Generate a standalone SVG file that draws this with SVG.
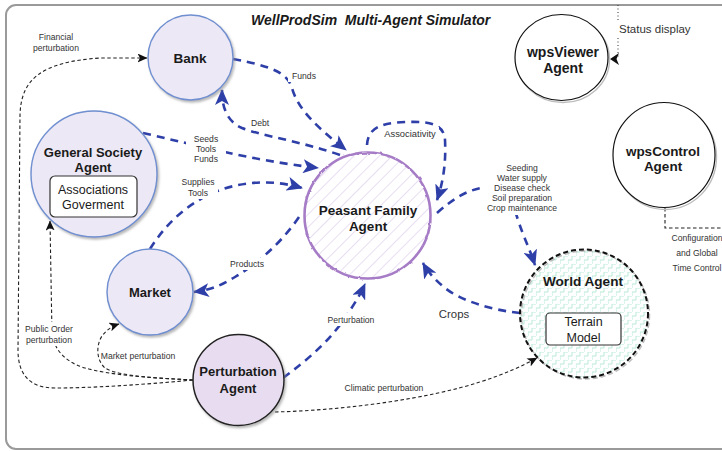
<svg xmlns="http://www.w3.org/2000/svg" width="722" height="451" viewBox="0 0 722 451">
  <defs>
    <style>
      .frame { fill: #ffffff; stroke: #9a9a9a; stroke-width: 2; }
      .title { font-family: "Liberation Sans", Arial, sans-serif; font-size: 14px; font-weight: bold; font-style: italic; fill: #1a1a1a; white-space: pre; }
      .name { font-family: "Liberation Sans", Arial, sans-serif; font-size: 13px; font-weight: bold; fill: #1a1a1a; text-anchor: middle; }
      .sub { font-family: "Liberation Sans", Arial, sans-serif; font-size: 12.5px; fill: #1a1a1a; text-anchor: middle; }
      .lbl { font-family: "Liberation Sans", Arial, sans-serif; font-size: 8.6px; fill: #333333; text-anchor: middle; }
      .lbl-l { font-family: "Liberation Sans", Arial, sans-serif; font-size: 11.5px; fill: #333333; }
      .agent { fill: #ede8f5; stroke: #6f8fd0; stroke-width: 1.4; }
      .pert { fill: #e8ddf0; stroke: #222222; stroke-width: 1.5; }
      .plain { fill: #ffffff; stroke: #111111; stroke-width: 1.2; }
      .plain-sh { fill: none; stroke: #bdbdbd; stroke-width: 1.4; }
      .box { fill: #ffffff; stroke: #333333; stroke-width: 1.2; }
      .flow { fill: none; stroke: #2e3fa8; stroke-width: 2.6; stroke-dasharray: 8 6; marker-end: url(#blueArrow); }
      .pflow { fill: none; stroke: #222222; stroke-width: 1.1; stroke-dasharray: 3.5 2.5; marker-end: url(#blackArrow); }
      .ctrl { fill: none; stroke: #222222; stroke-width: 1.1; stroke-dasharray: 3.5 2.5; }
      .dots { fill: none; stroke: #333333; stroke-width: 1; stroke-dasharray: 1 2.5; }
      .bg { fill: #ffffff; }
    </style>
    <marker id="blueArrow" markerUnits="userSpaceOnUse" markerWidth="16" markerHeight="14" viewBox="0 0 16 14" refX="15" refY="7" orient="auto">
      <path d="M0,0 L16,7 L0,14 L4,7 z" fill="#2e3fa8"/>
    </marker>
    <marker id="blackArrow" markerUnits="userSpaceOnUse" markerWidth="10" markerHeight="9" viewBox="0 0 10 9" refX="9.5" refY="4.5" orient="auto">
      <path d="M0,0 L10,4.5 L0,9 L2.5,4.5 z" fill="#111111"/>
    </marker>
    <filter id="shadow" x="-20%" y="-20%" width="140%" height="140%">
      <feDropShadow dx="1.5" dy="2" stdDeviation="1.2" flood-color="#8a8a8a" flood-opacity="0.6"/>
    </filter>
    <filter id="rough" x="-10%" y="-10%" width="120%" height="120%">
      <feTurbulence type="fractalNoise" baseFrequency="0.12" numOctaves="2" seed="3" result="n"/>
      <feDisplacementMap in="SourceGraphic" in2="n" scale="2.5" xChannelSelector="R" yChannelSelector="G"/>
    </filter>
    <pattern id="hatch" patternUnits="userSpaceOnUse" width="9" height="9" patternTransform="rotate(45)">
      <line x1="0" y1="0" x2="0" y2="9" stroke="#d9c8ea" stroke-width="1.2"/>
    </pattern>
    <pattern id="zigzag" patternUnits="userSpaceOnUse" width="8" height="8">
      <path d="M0,8 V4 H4 V0 H8" fill="none" stroke="#b9ead7" stroke-width="1"/>
    </pattern>
  </defs>

  <!-- outer frame -->
  <rect class="frame" x="6" y="5" width="740" height="444" rx="10"/>
  <text class="title" x="251" y="25" xml:space="preserve">WellProdSim  Multi-Agent Simulator</text>

  <!-- connectors -->
  <g id="connectors">
    <!-- blue message flows -->
    <path class="flow" d="M233,59 C270,66 287,72 292,88 C298,110 318,128 346,150"/>
    <path class="flow" d="M340,155 C300,141 262,136 242,128 C226,121 222,106 222,90"/>
    <path class="flow" d="M143,133 C200,146 250,160 318,168"/>
    <path class="flow" d="M150,249 C165,225 185,205 215,192 C245,180 275,180 302,188"/>
    <path class="flow" d="M299,217 C280,245 255,265 235,277 C220,286 210,290 194,292"/>
    <path class="flow" d="M367,145 C368,128 380,123 405,122 C430,121 444,124 445,140 C446,160 444,180 437,200"/>
    <path class="flow" d="M437,213 C455,197 470,188 490,187 C505,186 512,200 518,220 C524,238 530,250 535,265"/>
    <path class="flow" d="M520,313 C490,310 460,300 445,288 C435,280 428,272 423,263"/>
    <path class="flow" d="M283,378 C310,358 330,340 345,318 C355,303 360,295 365,284"/>

    <!-- perturbation flows -->
    <path class="pflow" d="M193,380 C140,385 90,388 55,388 C30,388 18,375 18,350 L20,115 C21,80 40,62 100,58 L147,58"/>
    <path class="pflow" d="M193,380 C150,378 110,375 85,368 C65,362 55,350 52,335 L50,221"/>
    <path class="pflow" d="M193,380 C160,378 120,377 105,368 C96,360 96,345 102,336 C106,331 110,327 119,324"/>
    <path class="pflow" d="M275,412 C350,410 430,398 480,382 C505,374 522,366 537,358"/>

    <!-- control links -->
    <path class="dots" d="M618,5 V22 M618,38 V58"/>
    <path d="M619,53 L610,59 L619,65 L616.5,59 z" fill="#111111"/>
    <path class="ctrl" d="M665,208 V228 H722"/>

    <!-- label backings -->
    <rect class="bg" x="288" y="70" width="32" height="12"/>
    <rect class="bg" x="247" y="117" width="26" height="11"/>
    <rect class="bg" x="383" y="127" width="56" height="12"/>
    <rect class="bg" x="186" y="133" width="40" height="32"/>
    <rect class="bg" x="178" y="177" width="40" height="22"/>
    <rect class="bg" x="228" y="258" width="38" height="12"/>
    <rect class="bg" x="483" y="162" width="79" height="53"/>
    <rect class="bg" x="436" y="305" width="36" height="16"/>
    <rect class="bg" x="326" y="313" width="50" height="13"/>
    <rect class="bg" x="19" y="322" width="60" height="24"/>
    <rect class="bg" x="340" y="381" width="88" height="13"/>

    <!-- labels -->
    <text class="lbl" x="56" y="40">Financial</text>
    <text class="lbl" x="56" y="51">perturbation</text>
    <text class="lbl" x="304" y="79">Funds</text>
    <text class="lbl" x="260" y="126">Debt</text>
    <text class="lbl" x="410" y="136.5" style="font-size:9.4px">Associativity</text>
    <text class="lbl" x="206" y="142">Seeds</text>
    <text class="lbl" x="206" y="152">Tools</text>
    <text class="lbl" x="206" y="162">Funds</text>
    <text class="lbl" x="198" y="185">Supplies</text>
    <text class="lbl" x="198" y="196">Tools</text>
    <text class="lbl" x="247" y="267">Products</text>
    <text class="lbl" x="522" y="171">Seeding</text>
    <text class="lbl" x="522" y="181">Water supply</text>
    <text class="lbl" x="522" y="191">Disease check</text>
    <text class="lbl" x="522" y="201">Soil preparation</text>
    <text class="lbl" x="522" y="211">Crop maintenance</text>
    <text class="lbl" x="454" y="318" style="font-size:11.4px">Crops</text>
    <text class="lbl" x="351" y="323">Perturbation</text>
    <text class="lbl" x="49" y="332">Public Order</text>
    <text class="lbl" x="49" y="343">perturbation</text>
    <text class="lbl" x="138" y="359">Market perturbation</text>
    <text class="lbl" x="384" y="391">Climatic perturbation</text>
    <text class="lbl-l" x="619" y="33">Status display</text>
    <text class="lbl" x="697" y="241">Configuration</text>
    <text class="lbl" x="697" y="256">and Global</text>
    <text class="lbl" x="697" y="271">Time Control</text>
  </g>

  <!-- agents -->
  <g id="bank">
    <circle class="agent" cx="190.5" cy="57.5" r="42.5" filter="url(#shadow)"/>
    <text class="name" x="190" y="63" style="font-size:13.5px">Bank</text>
  </g>

  <g id="general-society">
    <circle class="agent" cx="94" cy="174" r="63" filter="url(#shadow)"/>
    <text class="name" x="93" y="157">General Society</text>
    <text class="name" x="93" y="172">Agent</text>
    <rect class="box" x="50" y="176" width="87" height="41" rx="5"/>
    <text class="sub" x="93" y="193.5">Associations</text>
    <text class="sub" x="93" y="208.5">Goverment</text>
  </g>

  <g id="market">
    <circle class="agent" cx="150" cy="292" r="43" filter="url(#shadow)"/>
    <text class="name" x="150" y="296.5">Market</text>
  </g>

  <g id="perturbation">
    <circle class="pert" cx="238.5" cy="380" r="45.5" filter="url(#shadow)"/>
    <text class="name" x="238" y="376">Perturbation</text>
    <text class="name" x="238" y="392.5">Agent</text>
  </g>

  <g id="peasant-family">
    <circle cx="367.5" cy="215.5" r="63" fill="#ffffff"/>
    <circle cx="367.5" cy="215.5" r="63" fill="url(#hatch)"/>
    <circle cx="367.5" cy="215.5" r="63" fill="none" stroke="#a67cc6" stroke-width="2.6" filter="url(#rough)"/>
    <text class="name" x="368" y="215" style="font-size:13.5px">Peasant Family</text>
    <text class="name" x="368" y="230.5" style="font-size:13.5px">Agent</text>
  </g>

  <g id="world">
    <circle cx="584" cy="313.5" r="64" fill="#ffffff"/>
    <circle cx="584" cy="313.5" r="64" fill="url(#zigzag)"/>
    <circle cx="585.5" cy="315" r="64" fill="none" stroke="#bdbdbd" stroke-width="1.5" stroke-dasharray="5 3"/>
    <circle cx="584" cy="313.5" r="64" fill="none" stroke="#111111" stroke-width="2" stroke-dasharray="5 3"/>
    <text class="name" x="583" y="286" style="font-size:13.6px">World Agent</text>
    <rect class="box" x="546" y="313" width="75" height="32" rx="4"/>
    <text class="sub" x="583.5" y="326">Terrain</text>
    <text class="sub" x="583.5" y="342">Model</text>
  </g>

  <g id="wps-viewer">
    <ellipse class="plain-sh" cx="563" cy="59.5" rx="46.5" ry="43"/>
    <ellipse class="plain" cx="561.5" cy="57.5" rx="46.5" ry="43"/>
    <text class="name" x="563" y="57" style="font-size:14px">wpsViewer</text>
    <text class="name" x="563" y="73" style="font-size:14px">Agent</text>
  </g>

  <g id="wps-control">
    <ellipse class="plain-sh" cx="665.5" cy="157" rx="51" ry="52.5"/>
    <ellipse class="plain" cx="664" cy="155" rx="51" ry="52.5"/>
    <text class="name" x="663" y="155.5" style="font-size:13.5px">wpsControl</text>
    <text class="name" x="663" y="171" style="font-size:13.5px">Agent</text>
  </g>
</svg>
